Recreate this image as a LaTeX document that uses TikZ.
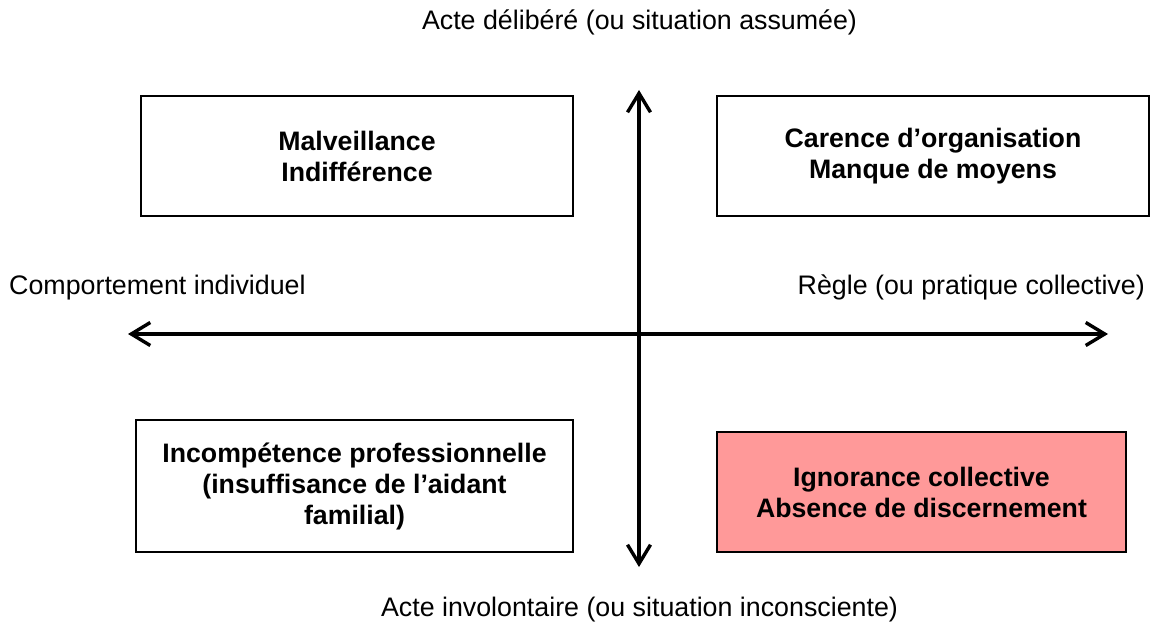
\documentclass[tikz,border=0pt]{standalone}
\usepackage{fontspec}
\setmainfont{Liberation Sans}
\usetikzlibrary{arrows.meta}
\definecolor{pinkfill}{RGB}{255,153,153}
\tikzset{
  box/.style={draw=black, line width=2pt, inner sep=0pt, align=center,
    font=\bfseries\fontsize{26.7}{31}\selectfont},
  lbl/.style={inner sep=0pt, font=\fontsize{26.8}{31}\selectfont, anchor=base},
  axis/.style={line width=3.4pt, {Straight Barb[length=19pt,width=23pt]}-{Straight Barb[length=19pt,width=23pt]}}
}
\begin{document}
\begin{tikzpicture}[x=1pt,y=-1pt]
\useasboundingbox (0,0) rectangle (1152,636);
\fill[white] (0,0) rectangle (1152,636);
% axes
\coordinate (vt) at (639,90);
\coordinate (vb) at (639,567);
\coordinate (hl) at (128,334);
\coordinate (hr) at (1108,334);
\draw[axis] (vt) -- (vb);
\draw[axis] (hl) -- (hr);
% boxes
\node[box, minimum width=432pt, minimum height=120pt] (tl) at (357,156) {Malveillance\\Indifférence};
\node[box, minimum width=432pt, minimum height=120pt] (tr) at (933,156) {Carence d’organisation\\Manque de moyens};
\node[box, minimum width=437pt, minimum height=132pt] (bl) at (354.5,486) {Incompétence professionnelle\\(insuffisance de l’aidant\\familial)};
\node[box, fill=pinkfill, minimum width=409pt, minimum height=120pt] (br) at (921.5,492) {Ignorance collective\\Absence de discernement};
% labels
\node[lbl] (top) at (639.5,30) {Acte délibéré (ou situation assumée)};
\node[lbl] (bot) at (639.5,616) {Acte involontaire (ou situation inconsciente)};
\node[lbl, anchor=base west] (left) at (9,295) {Comportement individuel};
\node[lbl, anchor=base east] (right) at (1145,295) {Règle (ou pratique collective)};
\end{tikzpicture}
\end{document}
